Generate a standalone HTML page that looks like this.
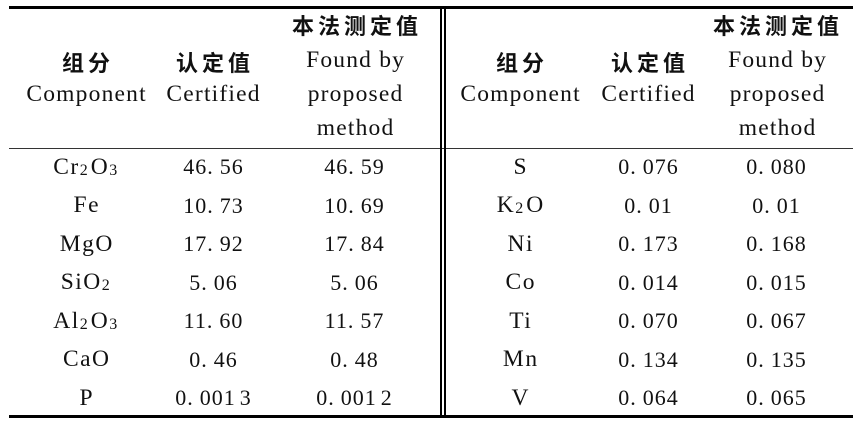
<!DOCTYPE html>
<html>
<head>
<meta charset="utf-8">
<style>
html,body{margin:0;padding:0;background:#fff;}
body{width:867px;height:437px;position:relative;overflow:hidden;}
.l{position:absolute;background:#000;}
.c{position:absolute;width:180px;text-align:center;font-family:"Liberation Serif",serif;font-size:23.5px;line-height:24px;color:#111;white-space:nowrap;letter-spacing:1.2px;padding-left:1.2px;box-sizing:border-box;}
.nm{letter-spacing:1.5px;padding-left:1.5px;}
.n{font-size:22px;letter-spacing:1px;padding-left:1px;}
.z{position:absolute;width:180px;text-align:center;font-family:"Noto Sans CJK SC","WenQuanYi Zen Hei",sans-serif;font-weight:700;font-size:22px;line-height:22px;letter-spacing:4px;padding-left:4px;box-sizing:border-box;color:#111;white-space:nowrap;}
sub{font-size:16px;vertical-align:-1px;line-height:0;margin-right:3px;letter-spacing:0;}
.g{display:inline-block;width:6px;}
.t{display:inline-block;width:4px;}
</style>
</head>
<body>
<!-- rules -->
<div class="l" style="left:9px;top:6px;width:844px;height:2.5px;"></div>
<div class="l" style="left:9px;top:147.5px;width:844px;height:1.5px;background:#333;"></div>
<div class="l" style="left:9px;top:415px;width:844px;height:2.5px;"></div>
<div class="l" style="left:440px;top:6px;width:2px;height:411px;"></div>
<div class="l" style="left:444px;top:6px;width:2px;height:411px;"></div>

<!-- headers left -->
<div class="z" style="left:265px;top:14px;">本法测定值</div>
<div class="z" style="left:-4px;top:51.3px;">组分</div>
<div class="z" style="left:123px;top:51.3px;">认定值</div>
<div class="c" style="left:265px;top:48.1px;">Found by</div>
<div class="c" style="left:-4px;top:82.1px;">Component</div>
<div class="c" style="left:123px;top:82.1px;">Certified</div>
<div class="c" style="left:265px;top:82.1px;">proposed</div>
<div class="c" style="left:265px;top:116.1px;">method</div>

<!-- headers right -->
<div class="z" style="left:686px;top:14px;">本法测定值</div>
<div class="z" style="left:430px;top:51.3px;">组分</div>
<div class="z" style="left:558px;top:51.3px;">认定值</div>
<div class="c" style="left:687px;top:48.1px;">Found by</div>
<div class="c" style="left:430px;top:82.1px;">Component</div>
<div class="c" style="left:558px;top:82.1px;">Certified</div>
<div class="c" style="left:687px;top:82.1px;">proposed</div>
<div class="c" style="left:687px;top:116.1px;">method</div>

<!-- left data -->
<div class="c nm" style="left:-4px;top:154.9px;">Cr<sub>2</sub>O<sub>3</sub></div>
<div class="c n" style="left:123px;top:155.4px;">46.<span class="g"></span>56</div>
<div class="c n" style="left:264px;top:155.4px;">46.<span class="g"></span>59</div>

<div class="c nm" style="left:-4px;top:193.35px;">Fe</div>
<div class="c n" style="left:123px;top:193.85px;">10.<span class="g"></span>73</div>
<div class="c n" style="left:264px;top:193.85px;">10.<span class="g"></span>69</div>

<div class="c nm" style="left:-4px;top:231.8px;">MgO</div>
<div class="c n" style="left:123px;top:232.3px;">17.<span class="g"></span>92</div>
<div class="c n" style="left:264px;top:232.3px;">17.<span class="g"></span>84</div>

<div class="c nm" style="left:-4px;top:270.25px;">SiO<sub>2</sub></div>
<div class="c n" style="left:123px;top:270.75px;">5.<span class="g"></span>06</div>
<div class="c n" style="left:264px;top:270.75px;">5.<span class="g"></span>06</div>

<div class="c nm" style="left:-4px;top:308.7px;">Al<sub>2</sub>O<sub>3</sub></div>
<div class="c n" style="left:123px;top:309.2px;">11.<span class="g"></span>60</div>
<div class="c n" style="left:264px;top:309.2px;">11.<span class="g"></span>57</div>

<div class="c nm" style="left:-4px;top:347.15px;">CaO</div>
<div class="c n" style="left:123px;top:347.65px;">0.<span class="g"></span>46</div>
<div class="c n" style="left:264px;top:347.65px;">0.<span class="g"></span>48</div>

<div class="c nm" style="left:-4px;top:385.6px;">P</div>
<div class="c n" style="left:123px;top:386.1px;">0.<span class="g"></span>001<span class="t"></span>3</div>
<div class="c n" style="left:264px;top:386.1px;">0.<span class="g"></span>001<span class="t"></span>2</div>

<!-- right data -->
<div class="c nm" style="left:430px;top:154.9px;">S</div>
<div class="c n" style="left:558px;top:155.4px;">0.<span class="g"></span>076</div>
<div class="c n" style="left:686px;top:155.4px;">0.<span class="g"></span>080</div>

<div class="c nm" style="left:430px;top:193.35px;">K<sub>2</sub>O</div>
<div class="c n" style="left:558px;top:193.85px;">0.<span class="g"></span>01</div>
<div class="c n" style="left:686px;top:193.85px;">0.<span class="g"></span>01</div>

<div class="c nm" style="left:430px;top:231.8px;">Ni</div>
<div class="c n" style="left:558px;top:232.3px;">0.<span class="g"></span>173</div>
<div class="c n" style="left:686px;top:232.3px;">0.<span class="g"></span>168</div>

<div class="c nm" style="left:430px;top:270.25px;">Co</div>
<div class="c n" style="left:558px;top:270.75px;">0.<span class="g"></span>014</div>
<div class="c n" style="left:686px;top:270.75px;">0.<span class="g"></span>015</div>

<div class="c nm" style="left:430px;top:308.7px;">Ti</div>
<div class="c n" style="left:558px;top:309.2px;">0.<span class="g"></span>070</div>
<div class="c n" style="left:686px;top:309.2px;">0.<span class="g"></span>067</div>

<div class="c nm" style="left:430px;top:347.15px;">Mn</div>
<div class="c n" style="left:558px;top:347.65px;">0.<span class="g"></span>134</div>
<div class="c n" style="left:686px;top:347.65px;">0.<span class="g"></span>135</div>

<div class="c nm" style="left:430px;top:385.6px;">V</div>
<div class="c n" style="left:558px;top:386.1px;">0.<span class="g"></span>064</div>
<div class="c n" style="left:686px;top:386.1px;">0.<span class="g"></span>065</div>
</body>
</html>
